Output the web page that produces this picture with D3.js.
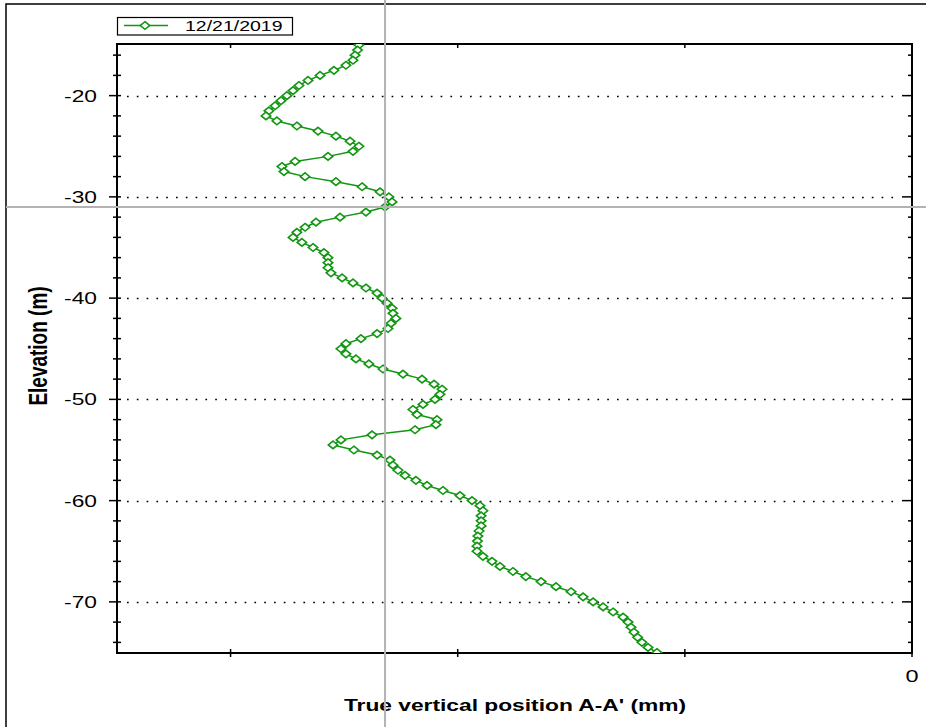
<!DOCTYPE html>
<html>
<head>
<meta charset="utf-8">
<script src="https://cdn.jsdelivr.net/npm/d3@7"></script>
<style>
  html, body { margin: 0; padding: 0; background: #fff; }
  svg { display: block; }
  text { font-family: Arial, "Liberation Sans", sans-serif; fill: #000; }
</style>
</head>
<body>
<div id="chart"></div>
<script>
// Inclinometer profile: true vertical position along A-A' versus elevation
const seriesName = "12/21/2019";

const elevation = [
  -15, -15.5, -16, -16.5, -17, -17.5, -18, -18.5, -19, -19.5,
  -20, -20.5, -21, -21.5, -22, -22.5, -23, -23.5, -24, -24.5,
  -25, -25.5, -26, -26.5, -27, -27.5, -28, -28.5, -29, -29.5,
  -30, -30.5, -31, -31.5, -32, -32.5, -33, -33.5, -34, -34.5,
  -35, -35.5, -36, -36.5, -37, -37.5, -38, -38.5, -39, -39.5,
  -40, -40.5, -41, -41.5, -42, -42.5, -43, -43.5, -44, -44.5,
  -45, -45.5, -46, -46.5, -47, -47.5, -48, -48.5, -49, -49.5,
  -50, -50.5, -51, -51.5, -52, -52.5, -53, -53.5, -54, -54.5,
  -55, -55.5, -56, -56.5, -57, -57.5, -58, -58.5, -59, -59.5,
  -60, -60.5, -61, -61.5, -62, -62.5, -63, -63.5, -64, -64.5,
  -65, -65.5, -66, -66.5, -67, -67.5, -68, -68.5, -69, -69.5,
  -70, -70.5, -71, -71.5, -72, -72.5, -73, -73.5, -74, -74.5,
  -75
];

const position = [
  -24.35, -24.41, -24.52, -24.61, -24.92, -25.45, -26.06, -26.59, -26.99, -27.25,
  -27.52, -27.78, -28.04, -28.31, -28.44, -27.96, -27.08, -26.15, -25.36, -24.74,
  -24.35, -24.61, -25.71, -27.16, -27.74, -27.65, -26.72, -25.36, -24.21, -23.42,
  -23.03, -22.89, -23.20, -24.04, -25.18, -26.24, -26.72, -27.08, -27.25, -26.86,
  -26.37, -25.89, -25.71, -25.71, -25.71, -25.58, -25.09, -24.61, -24.04, -23.55,
  -23.33, -23.11, -22.89, -22.85, -22.72, -22.94, -23.07, -23.55, -24.26, -24.92,
  -25.14, -24.92, -24.48, -23.91, -23.29, -22.41, -21.57, -21.04, -20.69, -20.78,
  -21.00, -21.53, -21.97, -21.79, -20.91, -20.96, -21.88, -23.77, -25.14, -25.49,
  -24.57, -23.55, -22.98, -22.85, -22.63, -22.32, -21.84, -21.35, -20.65, -19.90,
  -19.37, -19.02, -18.89, -18.97, -18.97, -18.97, -19.06, -19.11, -19.13, -19.15,
  -19.15, -18.89, -18.49, -18.14, -17.57, -17.00, -16.33, -15.67, -15.01, -14.48,
  -14.04, -13.60, -13.16, -12.72, -12.50, -12.37, -12.24, -12.08, -11.89, -11.62,
  -11.23
];

const yMajorTicks = [-20, -30, -40, -50, -60, -70];
const yMinorTicks = [-16, -18, -22, -24, -26, -28, -32, -34, -36, -38, -42, -44,
                     -46, -48, -52, -54, -56, -58, -62, -64, -66, -68, -72, -74];
const xTicks = [-30, -20, -10, 0];
const xTickLabels = ["", "", "", "0"];

// cursor crosshair (mm, m)
const cursorPosition = -23.2;
const cursorElevation = -31.0;

const W = 926, H = 727;
const plot = { left: 117, right: 912, top: 44, bottom: 653 };
const textStretch = 1.38;
const green = "#129612";

const x = d3.scaleLinear().domain([-35, 0]).range([plot.left, plot.right]);
const y = d3.scaleLinear().domain([-75.05, -14.9]).range([plot.bottom, plot.top]);

const svg = d3.select("#chart").append("svg")
  .attr("width", W).attr("height", H);

svg.append("rect").attr("width", W).attr("height", H).attr("fill", "#fff");

// outer frame
svg.append("path")
  .attr("d", `M6,${H} V4 H${W}`)
  .attr("fill", "none").attr("stroke", "#000").attr("stroke-width", 1.5);

// dotted grid lines
svg.append("g").selectAll("line").data(yMajorTicks).join("line")
  .attr("x1", plot.left + 10).attr("x2", plot.right - 12)
  .attr("y1", d => Math.round(y(d)) + 0.5).attr("y2", d => Math.round(y(d)) + 0.5)
  .attr("stroke", "#000").attr("stroke-width", 1.7)
  .attr("stroke-dasharray", "1.7,8.1");

// plot frame
svg.append("rect")
  .attr("x", plot.left).attr("y", plot.top)
  .attr("width", plot.right - plot.left).attr("height", plot.bottom - plot.top)
  .attr("fill", "none").attr("stroke", "#000").attr("stroke-width", 2);

// left axis ticks (crossing the axis line)
const axisG = svg.append("g").attr("stroke", "#000").attr("stroke-width", 1.5);
axisG.selectAll(".ymaj").data(yMajorTicks).join("line")
  .attr("x1", plot.left - 8).attr("x2", plot.left + 4)
  .attr("y1", d => y(d)).attr("y2", d => y(d));
axisG.selectAll(".ymin").data(yMinorTicks).join("line")
  .attr("x1", plot.left - 4).attr("x2", plot.left + 4)
  .attr("y1", d => y(d)).attr("y2", d => y(d));
// right axis ticks (inward)
axisG.selectAll(".rmaj").data(yMajorTicks).join("line")
  .attr("x1", plot.right - 10).attr("x2", plot.right)
  .attr("y1", d => y(d)).attr("y2", d => y(d));
axisG.selectAll(".rmin").data(yMinorTicks).join("line")
  .attr("x1", plot.right - 4).attr("x2", plot.right)
  .attr("y1", d => y(d)).attr("y2", d => y(d));
// bottom axis ticks
axisG.selectAll(".xb").data(xTicks).join("line")
  .attr("x1", d => x(d)).attr("x2", d => x(d))
  .attr("y1", plot.bottom - 4).attr("y2", plot.bottom + 4);
// top axis ticks
axisG.selectAll(".xt").data(xTicks.slice(0, -1)).join("line")
  .attr("x1", d => x(d)).attr("x2", d => x(d))
  .attr("y1", plot.top).attr("y2", plot.top + 4);

// y tick labels
svg.append("g").selectAll("text").data(yMajorTicks).join("text")
  .attr("transform", d => `translate(97,${y(d) + 6}) scale(${textStretch},1)`)
  .attr("text-anchor", "end")
  .style("font-size", "16.5px")
  .text(d => d3.format("d")(d).replace("−", "-"));

// x tick labels
svg.append("g").selectAll("text").data(xTicks).join("text")
  .attr("transform", d => `translate(${x(d)},682) scale(${textStretch},1)`)
  .attr("text-anchor", "middle")
  .style("font-size", "17px")
  .text((d, i) => xTickLabels[i]);

// axis titles
svg.append("text")
  .attr("transform", `translate(515,711) scale(${textStretch},1)`)
  .attr("text-anchor", "middle")
  .style("font-size", "16.5px").style("font-weight", "bold")
  .text("True vertical position A-A' (mm)");

svg.append("text")
  .attr("transform", `translate(38,346) scale(${textStretch},1) rotate(-90)`)
  .attr("text-anchor", "middle").attr("dy", "0.36em")
  .style("font-size", "19px").style("font-weight", "bold")
  .text("Elevation (m)");

// data series
const pts = elevation.map((e, i) => ({ e, p: position[i] }));
svg.append("clipPath").attr("id", "plotClip").append("rect")
  .attr("x", plot.left).attr("y", plot.top)
  .attr("width", plot.right - plot.left).attr("height", plot.bottom - plot.top);

const seriesG = svg.append("g").attr("clip-path", "url(#plotClip)");
seriesG.append("path")
  .datum(pts)
  .attr("d", d3.line().x(d => x(d.p)).y(d => y(d.e)))
  .attr("fill", "none").attr("stroke", green).attr("stroke-width", 1.5);

const diamond = "M0,-3.8L4.7,0L0,3.8L-4.7,0Z";
seriesG.selectAll(".mk").data(pts).join("path")
  .attr("transform", d => `translate(${x(d.p)},${y(d.e)})`)
  .attr("d", diamond)
  .attr("fill", "#fff").attr("stroke", green).attr("stroke-width", 1.6);

// cursor crosshair
svg.append("line")
  .attr("x1", x(cursorPosition)).attr("x2", x(cursorPosition))
  .attr("y1", 0).attr("y2", H)
  .attr("stroke", "#b3b3b3").attr("stroke-width", 2);
svg.append("line")
  .attr("x1", 6).attr("x2", W)
  .attr("y1", y(cursorElevation)).attr("y2", y(cursorElevation))
  .attr("stroke", "#b3b3b3").attr("stroke-width", 2);

// legend
const lg = svg.append("g");
lg.append("rect").attr("x", 117.5).attr("y", 17.5).attr("width", 175).attr("height", 17.5)
  .attr("fill", "#fff").attr("stroke", "#000").attr("stroke-width", 1.2);
lg.append("line").attr("x1", 124).attr("x2", 168).attr("y1", 25.5).attr("y2", 25.5)
  .attr("stroke", green).attr("stroke-width", 1.5);
lg.append("path").attr("transform", "translate(145,25.5)").attr("d", diamond)
  .attr("fill", "#fff").attr("stroke", green).attr("stroke-width", 1.6);
lg.append("text")
  .attr("transform", `translate(185,31) scale(1.3,1)`)
  .style("font-size", "15px")
  .text(seriesName);
</script>
</body>
</html>
